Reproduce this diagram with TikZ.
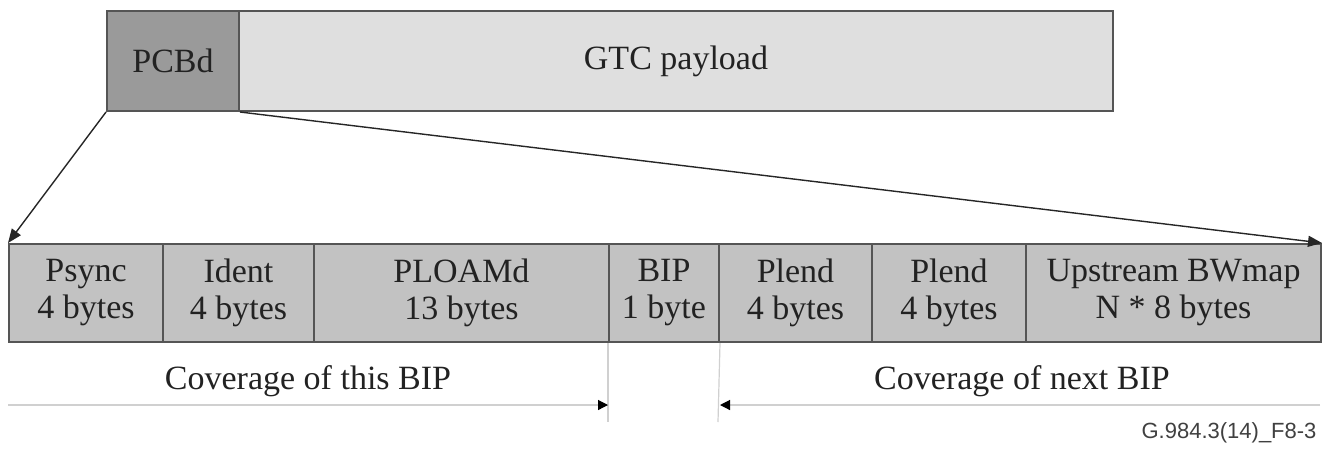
\documentclass[tikz,border=0pt]{standalone}
\usepackage{fontspec}
\setmainfont{Liberation Serif}
\newfontfamily\lsans{Liberation Sans}
\usetikzlibrary{arrows.meta}
\definecolor{edgec}{HTML}{555555}
\definecolor{pcbdc}{HTML}{9A9A9A}
\definecolor{gtcc}{HTML}{DFDFDF}
\definecolor{cellc}{HTML}{C2C2C2}
\definecolor{covc}{HTML}{D0D0D0}
\definecolor{txtc}{HTML}{222222}
\tikzset{
  box/.style={draw=edgec, line width=2pt, inner sep=0pt, anchor=north west, text=txtc,
    font=\fontsize{34}{37}\selectfont, align=center},
  cell/.style={box, fill=cellc, minimum height=98pt},
  zoomarrow/.style={line width=1.4pt, draw=black!85, -{Triangle[length=14pt,width=11pt]}},
  covline/.style={line width=1.2pt, draw=covc},
  covarrow/.style={covline, -{Triangle[length=10pt,width=10pt,fill=black,color=black]}},
  covtext/.style={text=txtc, font=\fontsize{34}{37}\selectfont}
}
\begin{document}
\begin{tikzpicture}[x=1pt,y=-1pt]
\useasboundingbox (0,0) rectangle (1332,448);
% top frame
\node[box, fill=pcbdc, minimum width=132pt, minimum height=100pt] (pcbd) at (106,10) {PCBd};
\node[box, fill=gtcc, minimum width=874pt, minimum height=100pt] (gtc) at (238,10) {GTC payload};
% bottom fields
\node[cell, minimum width=154pt] (psync) at (8,243) {Psync\\4 bytes};
\node[cell, minimum width=151pt] (ident) at (162,243) {Ident\\4 bytes};
\node[cell, minimum width=295pt] (ploam) at (313,243) {PLOAMd\\13 bytes};
\node[cell, minimum width=110pt] (bip) at (608,243) {BIP\\1 byte};
\node[cell, minimum width=153pt] (plend1) at (718,243) {Plend\\4 bytes};
\node[cell, minimum width=154pt] (plend2) at (871,243) {Plend\\4 bytes};
\node[cell, minimum width=295pt] (bwmap) at (1025,243) {Upstream BWmap\\N * 8 bytes};
% zoom arrows
\draw[zoomarrow] (pcbd.south west) -- (psync.north west);
\draw[zoomarrow] (pcbd.south east) -- (bwmap.north east);
% coverage
\coordinate (bipLbot) at (608,422);
\coordinate (bipRbot) at (718,422);
\coordinate (covLstart) at (8,405);
\coordinate (covRend) at (1320,405);
\draw[covline] (bip.south west) -- (bipLbot);
\draw[covline] (bip.south east) -- (bipRbot);
\draw[covarrow] (covLstart) -- (bip.south west |- covLstart);
\draw[covarrow] (covRend) -- (bip.south east |- covRend);
\node[covtext] (covthis) at (308,381) {Coverage of this BIP};
\node[covtext] (covnext) at (1022,381) {Coverage of next BIP};
\node[anchor=east, text=black!75, font=\lsans\fontsize{22}{24}\selectfont] (fig) at (1320,433) {G.984.3(14)\_F8-3};
\end{tikzpicture}
\end{document}
